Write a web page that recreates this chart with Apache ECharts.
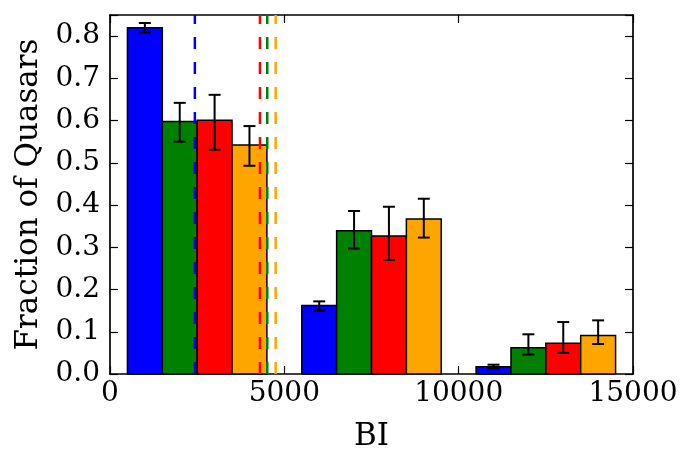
<!DOCTYPE html>
<html>
<head>
<meta charset="utf-8">
<script src="https://cdn.jsdelivr.net/npm/echarts@6/dist/echarts.min.js"></script>
<style>
  html, body { margin: 0; padding: 0; background: #fff; }
  #chart { width: 695px; height: 470px; }
</style>
</head>
<body>
<div id="chart"></div>
<script>
// bin left edges (BI) for each colour, every bin is 1000 wide
const binWidth = 1000
const blueLeft = [500, 5500, 10500]
const greenLeft = [1500, 6500, 11500]
const redLeft = [2500, 7500, 12500]
const orangeLeft = [3500, 8500, 13500]

// fraction of quasars per bin
const blueFrac = [0.820, 0.162, 0.017]
const greenFrac = [0.598, 0.339, 0.062]
const redFrac = [0.601, 0.327, 0.073]
const orangeFrac = [0.542, 0.367, 0.091]

// error bar bounds
const blueLo = [0.809, 0.150, 0.013]
const blueHi = [0.831, 0.172, 0.022]
const greenLo = [0.550, 0.297, 0.046]
const greenHi = [0.642, 0.386, 0.094]
const redLo = [0.531, 0.270, 0.050]
const redHi = [0.661, 0.396, 0.123]
const orangeLo = [0.493, 0.323, 0.071]
const orangeHi = [0.587, 0.415, 0.127]

// dashed vertical lines (BI)
const blueLine = 2434
const greenLine = 4510
const redLine = 4300
const orangeLine = 4751

const xTicks = [0, 5000, 10000, 15000]
const yMax = 0.85

const font = 'DejaVu Serif'

function barSeries (name, color, left, frac) {
  return {
    name: name,
    type: 'custom',
    z: 2,
    data: left.map((x, i) => [x, x + binWidth, frac[i]]),
    renderItem (params, api) {
      const p0 = api.coord([api.value(0), api.value(2)])
      const p1 = api.coord([api.value(1), 0])
      return {
        type: 'rect',
        shape: { x: p0[0], y: p0[1], width: p1[0] - p0[0], height: p1[1] - p0[1] },
        style: { fill: color, stroke: '#000', lineWidth: 1.5 }
      }
    }
  }
}

function errSeries (name, left, lo, hi) {
  return {
    name: name + ' err',
    type: 'custom',
    z: 3,
    data: left.map((x, i) => [x + binWidth / 2, lo[i], hi[i]]),
    renderItem (params, api) {
      const a = api.coord([api.value(0), api.value(1)])
      const b = api.coord([api.value(0), api.value(2)])
      const cap = 6
      const st = { stroke: '#000', lineWidth: 2 }
      return {
        type: 'group',
        children: [
          { type: 'line', shape: { x1: a[0], y1: a[1], x2: b[0], y2: b[1] }, style: st },
          { type: 'line', shape: { x1: a[0] - cap, y1: a[1], x2: a[0] + cap, y2: a[1] }, style: st },
          { type: 'line', shape: { x1: b[0] - cap, y1: b[1], x2: b[0] + cap, y2: b[1] }, style: st }
        ]
      }
    }
  }
}

function vline (name, color, x) {
  return {
    name: name + ' line',
    type: 'line',
    z: 4,
    symbol: 'none',
    silent: true,
    data: [[x, 0], [x, yMax]],
    lineStyle: { color: color, width: 2.5, type: [12, 13] }
  }
}

const axisLine = { show: true, onZero: false, lineStyle: { color: '#000', width: 1.7 } }
const axisTick = { show: true, inside: true, length: 8, lineStyle: { color: '#000', width: 1.2 } }

const option = {
  animation: false,
  backgroundColor: '#fff',
  grid: { left: 110, right: 62, top: 15, bottom: 96 },
  xAxis: [{
    type: 'value',
    min: 0,
    max: 15000,
    interval: 5000,
    name: 'BI',
    nameLocation: 'middle',
    nameGap: 47,
    nameTextStyle: { fontFamily: font, fontSize: 31, color: '#000' },
    axisLine: axisLine,
    axisTick: axisTick,
    splitLine: { show: false },
    axisLabel: {
      fontFamily: font, fontSize: 28, color: '#000', margin: 6,
      formatter: v => xTicks.includes(v) ? String(v) : ''
    }
  }, {
    type: 'value',
    position: 'top',
    min: 0,
    max: 15000,
    interval: 5000,
    axisLine: axisLine,
    axisTick: axisTick,
    splitLine: { show: false },
    axisLabel: { show: false }
  }],
  yAxis: [{
    type: 'value',
    min: 0,
    max: yMax,
    interval: 0.1,
    name: 'Fraction of Quasars',
    nameLocation: 'middle',
    nameGap: 64,
    nameTextStyle: { fontFamily: font, fontSize: 31, color: '#000' },
    axisLine: axisLine,
    axisTick: axisTick,
    splitLine: { show: false },
    axisLabel: {
      fontFamily: font, fontSize: 28, color: '#000', margin: 10,
      formatter: v => v > 0.81 ? '' : v.toFixed(1)
    }
  }, {
    type: 'value',
    position: 'right',
    min: 0,
    max: yMax,
    interval: 0.1,
    axisLine: axisLine,
    axisTick: axisTick,
    splitLine: { show: false },
    axisLabel: { show: false }
  }],
  series: [
    barSeries('blue', '#0000ff', blueLeft, blueFrac),
    barSeries('green', '#008000', greenLeft, greenFrac),
    barSeries('red', '#ff0000', redLeft, redFrac),
    barSeries('orange', '#ffa500', orangeLeft, orangeFrac),
    errSeries('blue', blueLeft, blueLo, blueHi),
    errSeries('green', greenLeft, greenLo, greenHi),
    errSeries('red', redLeft, redLo, redHi),
    errSeries('orange', orangeLeft, orangeLo, orangeHi),
    vline('blue', '#0000ff', blueLine),
    vline('red', '#ff0000', redLine),
    vline('green', '#008000', greenLine),
    vline('orange', '#ffa500', orangeLine)
  ]
}

const chart = echarts.init(document.getElementById('chart'))
chart.setOption(option)
</script>
</body>
</html>
